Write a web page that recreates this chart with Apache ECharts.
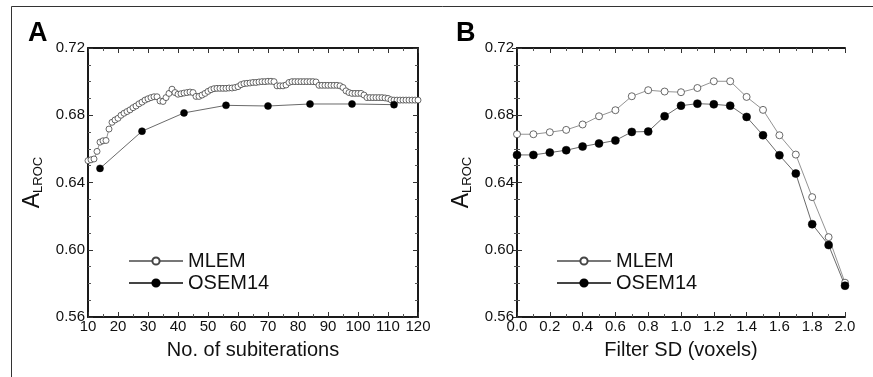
<!DOCTYPE html>
<html>
<head>
<meta charset="utf-8">
<script src="https://cdn.jsdelivr.net/npm/echarts@6/dist/echarts.min.js"></script>
<style>
  html, body { margin: 0; padding: 0; background: #fff; }
  #main { width: 873px; height: 377px; }
</style>
</head>
<body>
<div id="main"></div>
<script>
// panel A: AUC vs number of subiterations
var subIters = [10, 11, 12, 13, 14, 15, 16, 17, 18, 19, 20, 21, 22, 23, 24, 25, 26, 27, 28, 29,
  30, 31, 32, 33, 34, 35, 36, 37, 38, 39, 40, 41, 42, 43, 44, 45, 46, 47, 48, 49,
  50, 51, 52, 53, 54, 55, 56, 57, 58, 59, 60, 61, 62, 63, 64, 65, 66, 67, 68, 69,
  70, 71, 72, 73, 74, 75, 76, 77, 78, 79, 80, 81, 82, 83, 84, 85, 86, 87, 88, 89,
  90, 91, 92, 93, 94, 95, 96, 97, 98, 99, 100, 101, 102, 103, 104, 105, 106, 107, 108, 109,
  110, 111, 112, 113, 114, 115, 116, 117, 118, 119, 120];
var mlemA = [0.6530, 0.6535, 0.6540, 0.6585, 0.6640, 0.6648, 0.6650, 0.6718, 0.6758, 0.6772,
  0.6782, 0.6800, 0.6812, 0.6822, 0.6832, 0.6845, 0.6855, 0.6868, 0.6878, 0.6890,
  0.6898, 0.6905, 0.6910, 0.6910, 0.6885, 0.6882, 0.6905, 0.6930, 0.6955, 0.6935,
  0.6925, 0.6928, 0.6932, 0.6935, 0.6938, 0.6935, 0.6912, 0.6912, 0.6920, 0.6930,
  0.6942, 0.6952, 0.6958, 0.6960, 0.6960, 0.6960, 0.6960, 0.6962, 0.6962, 0.6965,
  0.6970, 0.6982, 0.6988, 0.6990, 0.6992, 0.6995, 0.6995, 0.6998, 0.7000, 0.7000,
  0.7002, 0.7002, 0.7000, 0.6975, 0.6975, 0.6975, 0.6980, 0.6995, 0.7000, 0.7000,
  0.7000, 0.7000, 0.7000, 0.7000, 0.7000, 0.7000, 0.6998, 0.6978, 0.6978, 0.6978,
  0.6978, 0.6978, 0.6978, 0.6978, 0.6975, 0.6965, 0.6945, 0.6935, 0.6930, 0.6930,
  0.6930, 0.6930, 0.6920, 0.6905, 0.6905, 0.6905, 0.6905, 0.6905, 0.6905, 0.6903,
  0.6900, 0.6892, 0.6890, 0.6890, 0.6890, 0.6890, 0.6890, 0.6890, 0.6890, 0.6890,
  0.6890];
var osemIters = [14, 28, 42, 56, 70, 84, 98, 112];
var osemA = [0.6484, 0.6705, 0.6814, 0.6859, 0.6855, 0.6867, 0.6867, 0.6863];

// panel B: AUC vs filter SD
var filterSD = [0.0, 0.1, 0.2, 0.3, 0.4, 0.5, 0.6, 0.7, 0.8, 0.9, 1.0,
  1.1, 1.2, 1.3, 1.4, 1.5, 1.6, 1.7, 1.8, 1.9, 2.0];
var mlemB = [0.6687, 0.6687, 0.6699, 0.6713, 0.6745, 0.6794, 0.6830, 0.6913, 0.6949, 0.6941, 0.6937,
  0.6962, 0.7002, 0.7002, 0.6909, 0.6832, 0.6681, 0.6566, 0.6313, 0.6075, 0.5804];
var osemB = [0.6564, 0.6564, 0.6578, 0.6592, 0.6614, 0.6632, 0.6650, 0.6701, 0.6703, 0.6794, 0.6857,
  0.6869, 0.6865, 0.6857, 0.6790, 0.6681, 0.6562, 0.6453, 0.6152, 0.6028, 0.5786];

function pairs(xs, ys) {
  return ys.map(function (v, i) { return [xs[i], v]; });
}

var font = 'Liberation Sans, Arial, Helvetica, sans-serif';
var frameLine = { show: true, lineStyle: { color: '#1a1a1a', width: 2 } };

function bottomAxis(gi, min, max, step, name, fmt) {
  return {
    type: 'value', gridIndex: gi, position: 'bottom', min: min, max: max, interval: step,
    name: name, nameLocation: 'middle', nameGap: 23,
    nameTextStyle: { fontFamily: font, fontSize: 20, color: '#111' },
    axisLine: frameLine,
    axisTick: { show: true, inside: true, length: 5, lineStyle: { color: '#333' } },
    minorTick: { show: true, splitNumber: 2, length: 3, lineStyle: { color: '#555' } },
    splitLine: { show: false },
    axisLabel: { fontFamily: font, fontSize: 15, color: '#111', margin: 2, formatter: fmt }
  };
}
function topAxis(gi, min, max, step) {
  return {
    type: 'value', gridIndex: gi, position: 'top', min: min, max: max, interval: step,
    axisLine: frameLine,
    axisTick: { show: true, inside: true, length: 5, lineStyle: { color: '#333' } },
    minorTick: { show: true, splitNumber: 2, length: 3, lineStyle: { color: '#555' } },
    splitLine: { show: false },
    axisLabel: { show: false }
  };
}
function leftAxis(gi) {
  return {
    type: 'value', gridIndex: gi, position: 'left', min: 0.56, max: 0.72, interval: 0.04,
    name: '{a|A}{s|LROC}', nameLocation: 'middle', nameGap: 43, nameRotate: 90,
    nameTextStyle: {
      fontFamily: font, color: '#111',
      rich: {
        a: { fontFamily: font, fontSize: 23, color: '#111' },
        s: { fontFamily: font, fontSize: 13, color: '#111', padding: [12, 0, 0, 0] }
      }
    },
    axisLine: frameLine,
    axisTick: { show: true, inside: true, length: 5, lineStyle: { color: '#333' } },
    minorTick: { show: true, splitNumber: 4, length: 3, lineStyle: { color: '#555' } },
    splitLine: { show: false },
    axisLabel: {
      fontFamily: font, fontSize: 15, color: '#111', margin: 3,
      padding: [0, 0, 5, 0],
      formatter: function (v) { return v.toFixed(2); }
    }
  };
}
function rightAxis(gi) {
  return {
    type: 'value', gridIndex: gi, position: 'right', min: 0.56, max: 0.72, interval: 0.04,
    axisLine: frameLine,
    axisTick: { show: true, inside: true, length: 5, lineStyle: { color: '#333' } },
    minorTick: { show: true, splitNumber: 4, length: 3, lineStyle: { color: '#555' } },
    splitLine: { show: false },
    axisLabel: { show: false }
  };
}

var openCircle = { color: '#fff', borderColor: '#444', borderWidth: 0.8 };
var filledCircle = { color: '#000', borderColor: '#000', borderWidth: 0.5 };
var legendText = { fontFamily: font, fontSize: 20, color: '#111', lineHeight: 20 };

var myChart = echarts.init(document.getElementById('main'));
var option = {
  backgroundColor: '#fff',
  animation: false,
  graphic: [
    { type: 'rect', shape: { x: 11.5, y: 6.5, width: 900, height: 400 },
      style: { fill: 'none', stroke: '#333', lineWidth: 1 } },
    { type: 'text', left: 28, top: 20,
      style: { text: 'A', font: '900 27px ' + font, fill: '#000' } },
    { type: 'text', left: 456, top: 20,
      style: { text: 'B', font: '900 27px ' + font, fill: '#000' } }
  ],
  legend: [
    {
      orient: 'vertical', left: 123, top: 246, itemWidth: 54, itemHeight: 9, itemGap: 2,
      textStyle: legendText,
      data: [{ name: 'MLEM' }, { name: 'OSEM14' }]
    },
    {
      orient: 'vertical', left: 551, top: 246, itemWidth: 54, itemHeight: 9, itemGap: 2,
      textStyle: legendText,
      data: [{ name: 'MLEM' }, { name: 'OSEM14' }]
    }
  ],
  grid: [
    { left: 88, right: 455, top: 48, bottom: 60 },
    { left: 517, right: 28, top: 48, bottom: 60 }
  ],
  xAxis: [
    bottomAxis(0, 10, 120, 10, 'No. of subiterations', function (v) { return String(v); }),
    bottomAxis(1, 0, 2, 0.2, 'Filter SD (voxels)', function (v) { return v.toFixed(1); }),
    topAxis(0, 10, 120, 10),
    topAxis(1, 0, 2, 0.2)
  ],
  yAxis: [leftAxis(0), leftAxis(1), rightAxis(0), rightAxis(1)],
  series: [
    {
      name: 'MLEM', type: 'line', xAxisIndex: 0, yAxisIndex: 0,
      symbol: 'circle', symbolSize: 6,
      lineStyle: { color: '#777', width: 0.8 }, itemStyle: openCircle,
      data: pairs(subIters, mlemA)
    },
    {
      name: 'OSEM14', type: 'line', xAxisIndex: 0, yAxisIndex: 0,
      symbol: 'circle', symbolSize: 7,
      lineStyle: { color: '#444', width: 0.8 }, itemStyle: filledCircle,
      data: pairs(osemIters, osemA)
    },
    {
      name: 'MLEM', type: 'line', xAxisIndex: 1, yAxisIndex: 1,
      symbol: 'circle', symbolSize: 7,
      lineStyle: { color: '#777', width: 0.8 }, itemStyle: openCircle,
      data: pairs(filterSD, mlemB)
    },
    {
      name: 'OSEM14', type: 'line', xAxisIndex: 1, yAxisIndex: 1,
      symbol: 'circle', symbolSize: 8,
      lineStyle: { color: '#444', width: 0.8 }, itemStyle: filledCircle,
      data: pairs(filterSD, osemB)
    }
  ]
};

option && myChart.setOption(option);
</script>
</body>
</html>
